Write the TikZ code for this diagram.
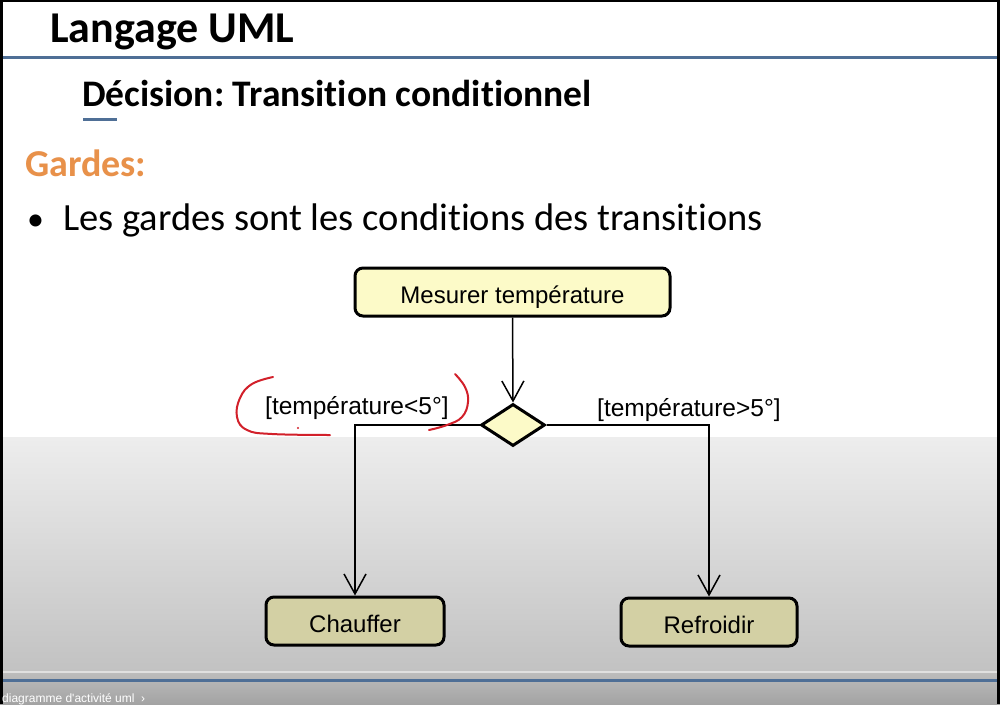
\documentclass[tikz,border=0pt]{standalone}
\usepackage{fontspec}
\setmainfont{Carlito}[Ligatures=NoCommon]
\newfontfamily\arialf{Liberation Sans}
\usetikzlibrary{arrows.meta,shapes.geometric}
\definecolor{slideblue}{HTML}{4F6F96}
\definecolor{orangeg}{HTML}{E8914A}
\definecolor{ylwbox}{HTML}{FCFAC8}
\definecolor{olivebox}{HTML}{D3D0A4}
\definecolor{redpen}{HTML}{D2202A}
\frenchspacing
\tikzset{
  actbox/.style={draw=black, line width=3pt, rounded corners=8pt, font=\arialf\fontsize{24}{28}\selectfont, inner sep=0pt, text height=22pt, text depth=0pt},
  conn/.style={draw=black, line width=1.5pt, -{Straight Barb[length=20pt,width=22pt,line width=1.5pt]}},
  lbl/.style={font=\arialf\fontsize{24.5}{28}\selectfont, inner sep=0pt},
  redmark/.style={draw=redpen, line width=2pt, line cap=round}
}
\begin{document}
\begin{tikzpicture}[x=1pt,y=-1pt]
\useasboundingbox (0,0) rectangle (1000,704);
% background
\fill[white] (0,0) rectangle (1000,437);
\shade[top color=black!7, bottom color=black!24] (0,437) rectangle (1000,672);
\shade[top color=black!26, bottom color=black!36] (0,672) rectangle (1000,704);
\fill[black] (0,0) rectangle (3,704);
\fill[black] (0,0) rectangle (1000,2);
\fill[black] (997,0) rectangle (1000,704);
% header
\node[anchor=base west, inner sep=0pt, font=\bfseries\fontsize{44}{48}\selectfont] (title) at (50,42) {Langage UML};
\draw[slideblue, line width=3pt] (3,57) -- (997,57);
\node[anchor=base west, inner sep=0pt, font=\bfseries\fontsize{37.5}{40}\selectfont] (sub) at (82,106) {Décision: Transition conditionnel};
\draw[slideblue, line width=3pt] (83,119) -- (117,119);
\node[anchor=base west, inner sep=0pt, text=orangeg, font=\bfseries\fontsize{38}{42}\selectfont] (gardes) at (25,176) {Gardes:};
\node[anchor=base west, inner sep=0pt, font=\fontsize{34}{38}\selectfont] (bul) at (27,230) {•};
\node[anchor=base west, inner sep=0pt, font=\fontsize{38.5}{42}\selectfont] (txt) at (63,230) {Les gardes sont les conditions des transitions};
% diagram
\node[actbox, fill=ylwbox, minimum width=315pt, minimum height=48pt] (mes) at (512.5,292) {Mesurer température};
\node[diamond, draw=black, line width=3pt, fill=ylwbox, minimum width=64pt, minimum height=42pt, inner sep=0pt] (dec) at (513,425) {};
\node[actbox, fill=olivebox, minimum width=178pt, minimum height=48pt] (chf) at (355,621) {Chauffer};
\node[actbox, fill=olivebox, minimum width=176pt, minimum height=48pt] (ref) at (709,622) {Refroidir};
\draw[conn] (mes.south) -- (dec.north);
\draw[conn] (dec.west) -| (chf.north);
\draw[conn] (dec.east) -| (ref.north);
\node[lbl, anchor=base west] (gl) at (265,414) {[température<5°]};
\node[lbl, anchor=base west] (gr) at (597,416) {[température>5°]};
% red pen annotation
\draw[redmark] plot[smooth, tension=0.7] coordinates {(273,377) (252,384) (240,398) (237,417) (247,430) (272,434) (330,435)};
\draw[redmark] plot[smooth, tension=0.7] coordinates {(455,374) (465,387) (468,402) (462,417) (447,425) (429,430)};
\fill[redpen] (298,428) circle (1.2pt);
% footer
\draw[black!12, line width=2pt] (3,672) -- (997,672);
\draw[slideblue, line width=3pt] (3,680) -- (997,680);
\node[anchor=base west, inner sep=0pt, text=white, font=\arialf\fontsize{12}{14}\selectfont] (foot) at (2,702) {diagramme d'activité uml \ ›};
\end{tikzpicture}
\end{document}
